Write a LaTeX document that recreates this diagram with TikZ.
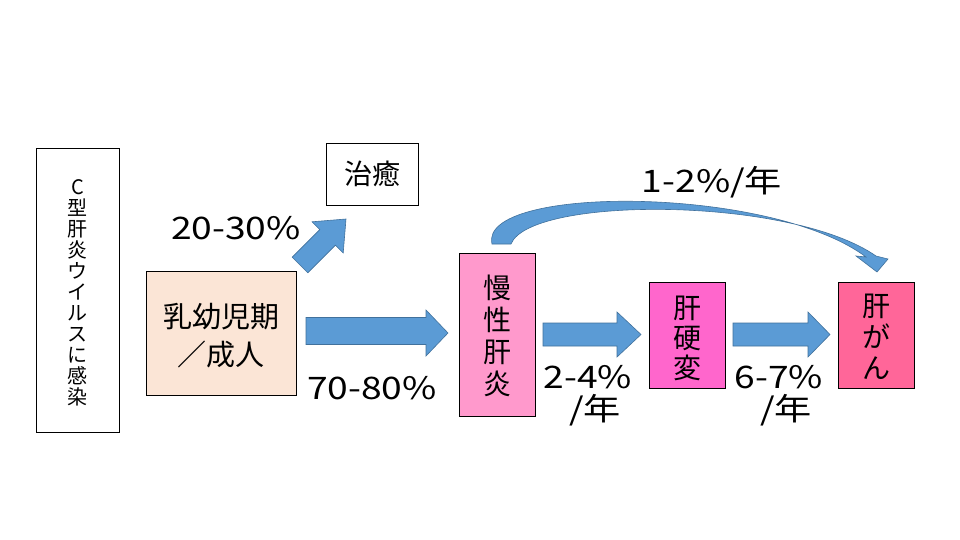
\documentclass[tikz,border=0pt]{standalone}
\usepackage{fontspec}
\setmainfont{Noto Sans CJK JP}
\newfontfamily\widefont[FakeStretch=1.2]{Noto Sans CJK JP}
\definecolor{peach}{HTML}{FBE5D6}
\definecolor{pinkA}{HTML}{FF99CC}
\definecolor{pinkB}{HTML}{FF66CC}
\definecolor{pinkC}{HTML}{FF6699}
\definecolor{arrowblue}{HTML}{5B9BD5}
\definecolor{arrowedge}{HTML}{41719C}
\begin{document}
\begin{tikzpicture}[x=1pt,y=-1pt,
  box/.style={draw=black, line width=0.9pt, inner sep=0pt},
  blockarrow/.style={fill=arrowblue, draw=arrowedge, line width=0.6pt, line join=miter},
  lbl/.style={font=\widefont\fontsize{31}{34}\selectfont, inner sep=0pt},
  vtxt/.style={align=center, inner sep=0pt}]
\useasboundingbox (0,0) rectangle (960,540);
\fill[white] (0,0) rectangle (960,540);

% boxes
\node[box, minimum width=83pt, minimum height=284pt] (hcv) at (77.5,290) {};
\node[vtxt, font=\fontsize{20}{21}\selectfont] (hcvt) at (77.5,292.5) {C\\型\\肝\\炎\\ウ\\イ\\ル\\ス\\に\\感\\染};

\node[box, minimum width=92pt, minimum height=62pt, font=\fontsize{28}{30}\selectfont] (cure) at (372,174) {治癒};

\node[box, fill=peach, minimum width=150pt, minimum height=124pt] (age) at (221,333) {};
\node[vtxt, font=\fontsize{29}{38}\selectfont] (aget) at (221,336) {乳幼児期\\／成人};

\node[box, fill=pinkA, minimum width=76pt, minimum height=163pt] (chr) at (497,334.5) {};
\node[vtxt, font=\fontsize{28}{32}\selectfont] (chrt) at (497,336) {慢\\性\\肝\\炎};

\node[box, fill=pinkB, minimum width=76pt, minimum height=106pt] (cir) at (687,335) {};
\node[vtxt, font=\fontsize{28}{30}\selectfont] (cirt) at (687,338) {肝\\硬\\変};

\node[box, fill=pinkC, minimum width=76pt, minimum height=106pt] (hcc) at (876,335) {};
\node[vtxt, font=\fontsize{28}{31}\selectfont] (hcct) at (876,337) {肝\\が\\ん};

% block arrows
\draw[blockarrow] (292.2,257.2) -- (307.8,272.8) -- (335.4,245.2) -- (343.2,253) -- (346,219)
  -- (312,221.8) -- (319.8,229.6) -- cycle;
\draw[blockarrow] (306,317.5) -- (426,317.5) -- (426,310) -- (448,333) -- (426,356) -- (426,344.5) -- (306,344.5) -- cycle;
\draw[blockarrow] (543,323) -- (617,323) -- (617,312) -- (641,334.5) -- (617,357) -- (617,346) -- (543,346) -- cycle;
\draw[blockarrow] (733,323) -- (808,323) -- (808,312) -- (830,334.5) -- (808,357) -- (808,346) -- (733,346) -- cycle;

% curved arrow
\draw[blockarrow] (492,244) .. controls (478,185) and (770,185) .. (866,257)
  -- (856,256) -- (877,272) -- (888,259) -- (876,256)
  .. controls (790,196) and (530,196) .. (511,244) -- cycle;

% labels
\node[lbl] (p1) at (236,228) {20-30\%};
\node[lbl] (p2) at (372,388) {70-80\%};
\node[lbl] (p3) at (712,182) {1-2\%/年};
\node[lbl] (p4) at (588,377) {2-4\%};
\node[lbl] (p4b) at (595,410) {/年};
\node[lbl] (p5) at (779,377) {6-7\%};
\node[lbl] (p5b) at (786,410) {/年};
\end{tikzpicture}
\end{document}
